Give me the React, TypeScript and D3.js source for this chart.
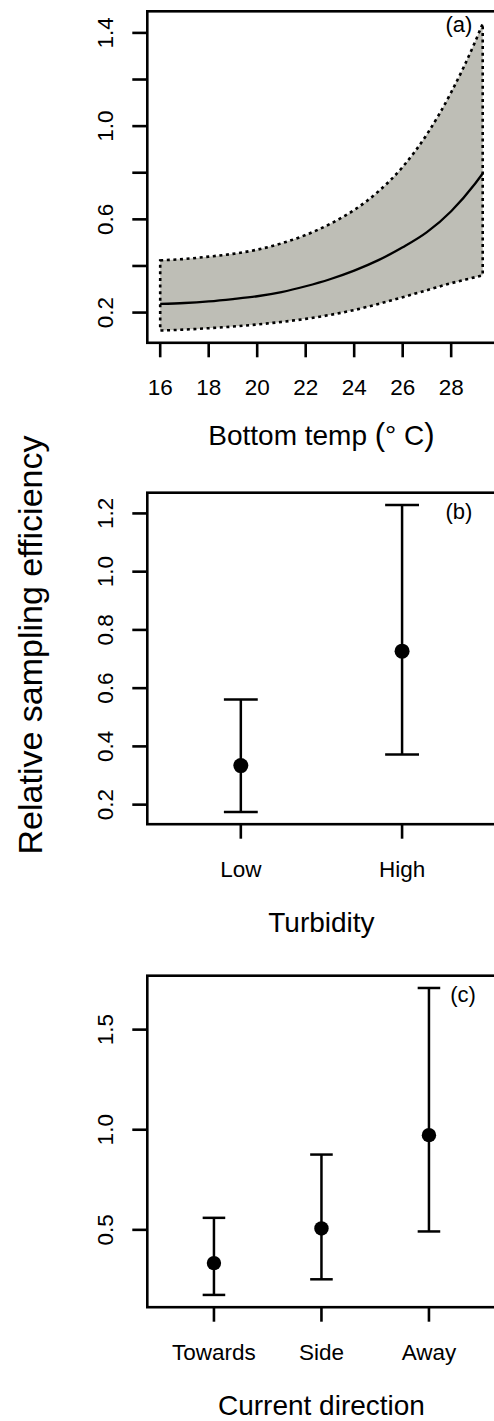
import React from "react";
import * as d3 from "d3";

// Panel (a): fitted relative sampling efficiency vs bottom temperature, with 95% band
const tempC = [16, 17, 18, 19, 20, 21, 22, 23, 24, 25, 26, 27, 28, 29, 29.3];
const effMean = [0.237, 0.241, 0.248, 0.258, 0.27, 0.288, 0.313, 0.343, 0.38, 0.425, 0.48, 0.545, 0.635, 0.755, 0.797];
const effUpper = [0.424, 0.43, 0.44, 0.452, 0.47, 0.497, 0.533, 0.58, 0.64, 0.72, 0.825, 0.965, 1.145, 1.365, 1.44];
const effLower = [0.123, 0.127, 0.133, 0.14, 0.149, 0.16, 0.173, 0.19, 0.211, 0.237, 0.266, 0.296, 0.326, 0.352, 0.36];
const tempXTicks = [16, 18, 20, 22, 24, 26, 28];
const tempYTicks = [0.2, 0.4, 0.6, 0.8, 1.0, 1.2, 1.4];
const tempYLabelled = [0.2, 0.6, 1.0, 1.4];

// Panel (b): turbidity
const turbidityLevels = ["Low", "High"];
const turbidityMean = [0.334, 0.727];
const turbidityLower = [0.175, 0.372];
const turbidityUpper = [0.561, 1.229];
const turbidityYTicks = [0.2, 0.4, 0.6, 0.8, 1.0, 1.2];

// Panel (c): current direction
const currentDirs = ["Towards", "Side", "Away"];
const currentMean = [0.334, 0.507, 0.973];
const currentLower = [0.175, 0.253, 0.492];
const currentUpper = [0.56, 0.876, 1.708];
const currentYTicks = [0.5, 1.0, 1.5];

const W = 494;
const H = 1421;
const LEFT = 147.3;
const RIGHT = 495.6;
const PANEL_H = 331.5;
const TOPS = [11.3, 492.7, 975.7];
const FONT = "'Liberation Sans', Arial, Helvetica, sans-serif";
const TICK_FS = 22.5;
const TITLE_FS = 28;
const fmt = d3.format(".1f");

// R-style axis range: data extent widened by 4% on each side
function padded(lo: number, hi: number): [number, number] {
  const e = (hi - lo) * 0.04;
  return [lo - e, hi + e];
}

function Frame({ top }: { top: number }) {
  return (
    <rect x={LEFT} y={top} width={RIGHT - LEFT} height={PANEL_H} fill="none" stroke="#000" strokeWidth={2.6} />
  );
}

function YAxis({ y, ticks, labelled }: { y: d3.ScaleLinear<number, number>; ticks: number[]; labelled: number[] }) {
  return (
    <g>
      {ticks.map((t) => (
        <line key={"t" + t} x1={LEFT - 15} x2={LEFT} y1={y(t)} y2={y(t)} stroke="#000" strokeWidth={2.6} />
      ))}
      {labelled.map((t) => (
        <text
          key={"l" + t}
          transform={`translate(113.3,${y(t)}) rotate(-90)`}
          textAnchor="middle"
          fontSize={TICK_FS}
          fontFamily={FONT}
        >
          {fmt(t)}
        </text>
      ))}
    </g>
  );
}

function XTicks({ bottom, items }: { bottom: number; items: { x: number; label: string }[] }) {
  return (
    <g>
      {items.map((it) => (
        <g key={it.label}>
          <line x1={it.x} x2={it.x} y1={bottom} y2={bottom + 14.5} stroke="#000" strokeWidth={2.6} />
          <text x={it.x} y={bottom + 52.5} textAnchor="middle" fontSize={TICK_FS} fontFamily={FONT}>
            {it.label}
          </text>
        </g>
      ))}
    </g>
  );
}

function TempPanel() {
  const top = TOPS[0];
  const bottom = top + PANEL_H;
  const x = d3.scaleLinear().domain(padded(d3.min(tempC)!, d3.max(tempC)!)).range([LEFT, RIGHT]);
  const y = d3
    .scaleLinear()
    .domain(padded(d3.min(effLower)!, d3.max(effUpper)!))
    .range([bottom, top]);
  const pts = tempC.map((t, i) => ({ t, m: effMean[i], lo: effLower[i], hi: effUpper[i] }));
  const band = d3
    .area<(typeof pts)[number]>()
    .x((d) => x(d.t))
    .y0((d) => y(d.lo))
    .y1((d) => y(d.hi))
    .curve(d3.curveMonotoneX);
  const mean = d3
    .line<(typeof pts)[number]>()
    .x((d) => x(d.t))
    .y((d) => y(d.m))
    .curve(d3.curveMonotoneX);
  return (
    <g>
      <path d={band(pts) || ""} fill="#bebeb6" stroke="none" />
      <path d={mean(pts) || ""} fill="none" stroke="#000" strokeWidth={2.3} />
      <path
        d={band(pts) || ""}
        fill="none"
        stroke="#000"
        strokeWidth={2.6}
        strokeDasharray="3 3.6"
      />
      <Frame top={top} />
      <YAxis y={y} ticks={tempYTicks} labelled={tempYLabelled} />
      <XTicks bottom={bottom} items={tempXTicks.map((t) => ({ x: x(t), label: String(t) }))} />
      <text x={(LEFT + RIGHT) / 2} y={bottom + 102.5} textAnchor="middle" fontSize={TITLE_FS} fontFamily={FONT}>
        Bottom temp <tspan fontSize={31}>(</tspan>° C<tspan fontSize={31}>)</tspan>
      </text>
      <text x={459} y={top + 21} textAnchor="middle" fontSize={22} fontFamily={FONT}>
        (a)
      </text>
    </g>
  );
}

function CategoryPanel({
  index,
  cats,
  mean,
  lower,
  upper,
  yTicks,
  title,
  tag,
  tagX,
  r,
}: {
  index: number;
  cats: string[];
  mean: number[];
  lower: number[];
  upper: number[];
  yTicks: number[];
  title: string;
  tag: string;
  tagX: number;
  r: number;
}) {
  const top = TOPS[index];
  const bottom = top + PANEL_H;
  const n = cats.length;
  const x = d3.scaleLinear().domain(padded(0.5, n + 0.5)).range([LEFT, RIGHT]);
  const y = d3
    .scaleLinear()
    .domain(padded(d3.min(lower)!, d3.max(upper)!))
    .range([bottom, top]);
  const cap = x(0.105) - x(0);
  return (
    <g>
      {cats.map((c, i) => {
        const cx = x(i + 1);
        return (
          <g key={c}>
            <line x1={cx} x2={cx} y1={y(lower[i])} y2={y(upper[i])} stroke="#000" strokeWidth={2.5} />
            <line x1={cx - cap} x2={cx + cap} y1={y(lower[i])} y2={y(lower[i])} stroke="#000" strokeWidth={2.5} />
            <line x1={cx - cap} x2={cx + cap} y1={y(upper[i])} y2={y(upper[i])} stroke="#000" strokeWidth={2.5} />
            <circle cx={cx} cy={y(mean[i])} r={r} fill="#000" />
          </g>
        );
      })}
      <Frame top={top} />
      <YAxis y={y} ticks={yTicks} labelled={yTicks} />
      <XTicks bottom={bottom} items={cats.map((c, i) => ({ x: x(i + 1), label: c }))} />
      <text x={(LEFT + RIGHT) / 2} y={bottom + 108} textAnchor="middle" fontSize={TITLE_FS} fontFamily={FONT}>
        {title}
      </text>
      <text x={tagX} y={top + 26} textAnchor="middle" fontSize={22} fontFamily={FONT}>
        {tag}
      </text>
    </g>
  );
}

export default function App() {
  return (
    <svg
      width={W}
      height={H}
      viewBox={`0 0 ${W} ${H}`}
      style={{ position: "absolute", left: 0, top: 0, background: "#fff" }}
    >
      <rect x={0} y={0} width={W} height={H} fill="#fff" />
      <TempPanel />
      <CategoryPanel
        index={1}
        cats={turbidityLevels}
        mean={turbidityMean}
        lower={turbidityLower}
        upper={turbidityUpper}
        yTicks={turbidityYTicks}
        title="Turbidity"
        tag="(b)"
        tagX={459}
        r={7.5}
      />
      <CategoryPanel
        index={2}
        cats={currentDirs}
        mean={currentMean}
        lower={currentLower}
        upper={currentUpper}
        yTicks={currentYTicks}
        title="Current direction"
        tag="(c)"
        tagX={463}
        r={7.2}
      />
      <text
        transform="translate(42,645) rotate(-90)"
        textAnchor="middle"
        fontSize={34}
        fontFamily={FONT}
      >
        Relative sampling efficiency
      </text>
    </svg>
  );
}
